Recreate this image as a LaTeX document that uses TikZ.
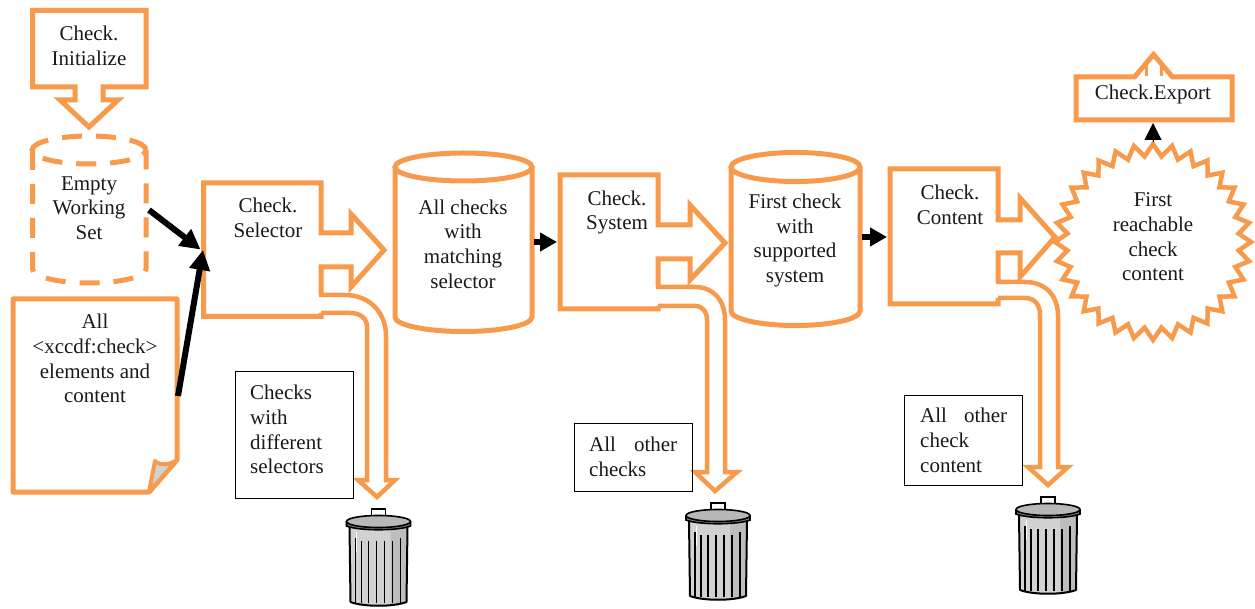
\documentclass[tikz,border=0pt]{standalone}
\usepackage{fontspec}
\setmainfont{Liberation Serif}
\usetikzlibrary{arrows.meta}
\definecolor{orangeline}{HTML}{F79A4C}
\definecolor{canlight}{HTML}{D2D2D2}
\definecolor{canshade}{HTML}{BDBDBD}
\definecolor{canband}{HTML}{808080}
\definecolor{canlid}{HTML}{B8B8B8}
\tikzset{
  outline/.style={draw=orangeline,line width=5pt,miter limit=10},
  pipe/.style={draw=orangeline,line width=4.5pt},
  txt/.style={inner sep=0pt,align=center,font=\fontsize{21}{24.7}\selectfont,text=black!90},
  ltxt/.style={inner sep=0pt,align=left,font=\fontsize{21}{24.7}\selectfont,text=black!90,anchor=north west},
  labelbox/.style={draw=black,line width=1.2pt,inner sep=0pt,anchor=north west},
  bigarrow/.style={line width=6pt,-{Triangle[length=20pt,width=20pt]}},
  smallarrow/.style={line width=6pt,-{Triangle[length=17pt,width=18pt]}},
  trashcan/.pic={
    \fill[canlight] (-29,19) -- (29,19) -- (28,94) .. controls (15,99) and (-15,99) .. (-28,94) -- cycle;
    \fill[canshade] (12,19) -- (29,19) -- (28,94) .. controls (24,96) and (18,97) .. (12,97) -- cycle;
    \draw[black,line width=2pt,line join=round] (-29,19) -- (-28,94) .. controls (-15,99) and (15,99) .. (28,94) -- (29,19);
    \draw[white,line width=1pt] (-22,24) -- (-22,44);
    \foreach \r/\t in {-23/30,-17/33,-10/33,-2/33,6/33,14/33,22/30}
      \draw[black,line width=1.6pt] (\r,\t) -- (\r,95);
    \draw[black,line width=1.6pt] (-7,9) -- (-7,1) -- (7,1) -- (7,9);
    \path[fill=canband,draw=black,line width=1.6pt] (-32,14) -- (-32,18) .. controls (-20,23) and (20,23) .. (32,18) -- (32,14) -- cycle;
    \path[fill=canlid,draw=black,line width=1.6pt] (0,13.5) ellipse [x radius=32pt,y radius=6pt];
  }
}
\begin{document}
\begin{tikzpicture}[x=1pt,y=-1pt]
\useasboundingbox (0,0) rectangle (1255,609);

% Check.Initialize callout
\draw[outline] (32.5,10.5) -- (146,10.5) -- (146,87) -- (103,87) -- (103,100) -- (118,100) -- (89,127) -- (60,100) -- (75,100) -- (75,87) -- (32.5,87) -- cycle;
\node[txt] (init) at (89,45.5) {Check.\\Initialize};

% Empty working set
\draw[outline,dash pattern=on 20pt off 14pt] (89,150) ellipse [x radius=57pt,y radius=14pt];
\draw[outline,dash pattern=on 20pt off 14pt] (32.5,150) -- (32.5,269) arc [start angle=180,end angle=360,x radius=56.75pt,y radius=14pt] -- (146,150);
\node[txt] (empty) at (89,208) {Empty\\Working\\Set};

% Check.Selector callout
\draw[outline] (321,295) -- (321,267) -- (351,267) -- (351,287) -- (384,250) -- (351,214) -- (351,233) -- (321,233) -- (321,183) -- (203.5,183) -- (203.5,316.5) -- (321,316.5) -- (321,313);
\draw[pipe] (319,295) -- (345,295) .. controls (369,295) and (386,312) .. (386,336) -- (386,480) -- (395,480) -- (377,497) -- (358,480) -- (367,480) -- (367,327) .. controls (367,318) and (360,313) .. (350,313) -- (321,313);
\node[txt] (selector) at (268,218) {Check.\\Selector};

% Cylinder 1
\draw[outline] (463.5,167) ellipse [x radius=68.5pt,y radius=14pt];
\draw[outline] (395,167) -- (395,317) arc [start angle=180,end angle=360,x radius=68.5pt,y radius=14.5pt] -- (532,167);
\node[txt] (cylone) at (463,244) {All checks\\with\\matching\\selector};

% Check.System callout
\draw[outline] (658,287) -- (658,259) -- (690,259) -- (690,280) -- (725,243) -- (690,205) -- (690,225) -- (658,225) -- (658,175) -- (560,175) -- (560,309) -- (658,309) -- (658,306);
\draw[pipe] (656,287) -- (695,287) .. controls (713,287) and (725,300) .. (725,320) -- (725,472) -- (737,472) -- (715,491) -- (695,472) -- (707,472) -- (707,320) .. controls (707,312) and (703,306) .. (695,306) -- (658,306);
\node[txt] (system) at (617,212.5) {Check.\\System};

% Cylinder 2
\draw[outline] (795.5,167) ellipse [x radius=64.5pt,y radius=14.5pt];
\draw[outline] (731,167) -- (731,311) arc [start angle=180,end angle=360,x radius=64.5pt,y radius=14.5pt] -- (860,167);
\node[txt] (cyltwo) at (795,240.5) {First check\\with\\supported\\system};

% Check.Content callout
\draw[outline] (998,282) -- (998,253) -- (1020,253) -- (1020,277) -- (1055,237) -- (1020,198) -- (1020,220) -- (998,220) -- (998,169) -- (890,169) -- (890,304) -- (998,304) -- (998,298);
\draw[pipe] (996,282) -- (1025,282) .. controls (1045,282) and (1058,295) .. (1058,316) -- (1058,467) -- (1068,467) -- (1048,485) -- (1028,467) -- (1040,467) -- (1040,315) .. controls (1040,305) and (1035,298) .. (1025,298) -- (998,298);
\node[txt] (content) at (950,204.5) {Check.\\Content};

% Document
\draw[outline,line join=round] (13,299) -- (177,299) -- (177,460) -- (149,492) -- (13,492) -- cycle;
\draw[draw=orangeline,fill=canlight,line width=4pt,line join=round] (149,492) -- (155,461) .. controls (160,466) and (170,465) .. (177,460) -- cycle;
\node[txt] (doc) at (95,358.5) {All\\<xccdf:check>\\elements and\\content};

% Starburst
\draw[outline,line width=4.5pt] plot[samples=65,domain=0:64] ({1153+(92+6*cos(180*\x))*sin(5.625*\x)},{242-(92+6*cos(180*\x))*cos(5.625*\x)}) -- cycle;
\node[txt] (burst) at (1153,237) {First\\reachable\\check\\content};

% Check.Export callout
\draw[outline] (1076,77) -- (1134.5,77) -- (1153.5,54.5) -- (1172.5,77) -- (1232,77) -- (1232,120) -- (1076,120) -- cycle;
\fill[white] (1148,70) rectangle (1159.5,80);
\draw[orangeline,line width=3pt] (1146.5,65) -- (1146.5,76);
\draw[orangeline,line width=3pt] (1161,65) -- (1161,76);
\node[txt] (export) at (1153,94.5) {Check.Export};

% Label boxes
\node[labelbox,minimum width=118pt,minimum height=127pt] (lab1) at (234.5,371) {};
\node[ltxt] (labone) at (250,385) {Checks\\with\\different\\selectors};
\node[labelbox,minimum width=118pt,minimum height=68pt] (lab2) at (574,423) {};
\node[ltxt] (labtwo) at (589,437) {\hbox to 88pt{All\hfill other}\\checks};
\node[labelbox,minimum width=118pt,minimum height=90pt] (lab3) at (904,395) {};
\node[ltxt] (labthree) at (920,408) {\hbox to 87pt{All\hfill other}\\check\\content};

% Trash cans
\pic (canone) at (378.5,508) {trashcan};
\pic (cantwo) at (718,502) {trashcan};
\pic (canthree) at (1048,496) {trashcan};

% Connectors
\coordinate (emptyout) at (149,210);
\coordinate (selin) at (200.5,249.5);
\coordinate (docout) at (178,396);
\coordinate (selintwo) at (203,250);
\coordinate (cyloneout) at (534,242);
\coordinate (sysin) at (557,242);
\coordinate (cyltwoout) at (862,237);
\coordinate (conin) at (887,237);
\coordinate (burstout) at (1153,142);
\coordinate (expin) at (1153,123);
\draw[bigarrow] (emptyout) -- (selin);
\draw[bigarrow] (docout) -- (selintwo);
\draw[smallarrow] (cyloneout) -- (sysin);
\draw[smallarrow] (cyltwoout) -- (conin);
\draw[line width=1pt,-{Triangle[length=17pt,width=17pt]}] (burstout) -- (expin);
\end{tikzpicture}
\end{document}
